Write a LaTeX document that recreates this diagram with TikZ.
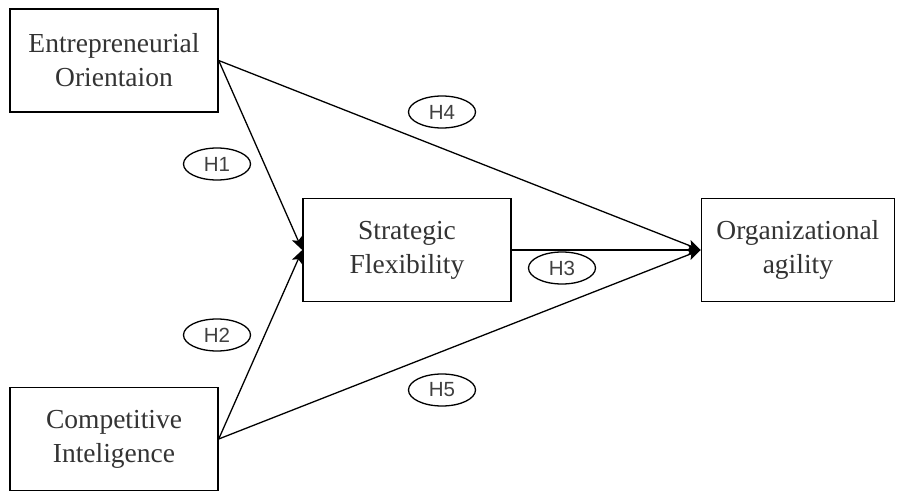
\documentclass[tikz,border=0pt]{standalone}
\usepackage{fontspec}
\usepackage{tikz}
\usetikzlibrary{shapes.geometric, arrows.meta, positioning}
\newfontfamily\boxserif{Liberation Serif}
\newfontfamily\hypsans{Liberation Sans}
\newcommand{\boxfnt}{\boxserif\fontsize{27.5pt}{34pt}\selectfont}
\newcommand{\hypfnt}{\hypsans\fontsize{20.5pt}{22pt}\selectfont}
\tikzset{
  varbox/.style={rectangle, draw=black, line width=1.4pt, fill=white,
                 minimum width=208pt, minimum height=103pt, inner sep=2pt,
                 align=center, font=\boxfnt, text=black!80},
  hyp/.style={ellipse, draw=black, line width=1.3pt, fill=white,
              minimum width=67pt, minimum height=32pt, inner sep=0pt,
              font=\hypfnt, text=black!75},
  arrow/.style={-{Stealth[length=13pt, width=11pt, inset=3pt]}, line width=1.3pt},
}

\begin{document}
\begin{tikzpicture}[x=1pt, y=-1pt]
  \useasboundingbox (0,0) rectangle (898,491);
  \node[varbox] (eo) at (114,60.5) {Entrepreneurial\\Orientaion};
  \node[varbox] (ci) at (114,439)  {Competitive\\Inteligence};
  \node[varbox] (sf) at (407,250)  {Strategic\\Flexibility};
  \node[varbox, minimum width=193pt, right=189pt of sf] (oa) {Organizational\\agility};
  \draw[arrow] (eo.east) -- (sf.west);
  \draw[arrow] (ci.east) -- (sf.west);
  \draw[arrow] (eo.east) -- (oa.west);
  \draw[arrow] (ci.east) -- (oa.west);
  \draw[arrow] (sf.east) -- (oa.west);
  \node[hyp] (h1) at (217,164) {H1};
  \node[hyp] (h2) at (217,335) {H2};
  \node[hyp] (h3) at (562,268) {H3};
  \node[hyp] (h4) at (442,112) {H4};
  \node[hyp] (h5) at (442,390) {H5};
\end{tikzpicture}
\end{document}
